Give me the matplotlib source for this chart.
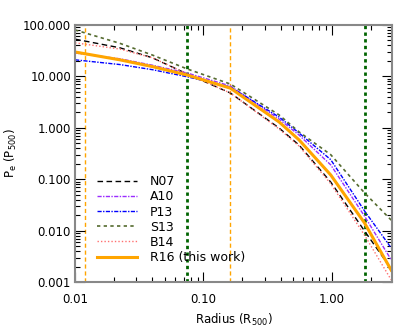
import matplotlib
matplotlib.use("Agg")
import matplotlib.pyplot as plt
from matplotlib.ticker import LogLocator, FixedLocator, FixedFormatter, NullFormatter

r_n07 = [0.01, 0.0223, 0.04, 0.075, 0.162, 0.388, 0.556, 0.98, 1.8, 2.9]
p_n07 = [53, 36, 23, 11.1, 4.75, 0.99, 0.46, 0.088, 0.0098, 0.0018]

r_a10 = [0.01, 0.0223, 0.04, 0.075, 0.162, 0.388, 0.556, 0.98, 1.8, 2.9]
p_a10 = [28.5, 22, 16.5, 11.6, 6.5, 1.48, 0.72, 0.19, 0.019, 0.0027]

r_p13 = [0.01, 0.0223, 0.04, 0.075, 0.162, 0.388, 0.556, 0.98, 1.8, 2.9]
p_p13 = [21, 17, 13.5, 9.8, 6.2, 1.62, 0.79, 0.24, 0.024, 0.0046]

r_s13 = [0.01, 0.0223, 0.04, 0.075, 0.162, 0.388, 0.556, 0.98, 1.8, 2.9]
p_s13 = [80, 44, 26, 13.9, 7.1, 1.78, 0.83, 0.30, 0.054, 0.016]

r_b14 = [0.01, 0.0223, 0.04, 0.075, 0.162, 0.388, 0.556, 0.98, 1.8, 2.9]
p_b14 = [45, 34, 23, 11.1, 4.75, 0.95, 0.44, 0.082, 0.0081, 0.0011]

r_r16 = [0.01, 0.0223, 0.04, 0.075, 0.162, 0.388, 0.556, 0.98, 1.8, 2.9]
p_r16 = [29.8, 21, 15.5, 10.6, 5.9, 1.30, 0.58, 0.121, 0.014, 0.0017]

vlines_orange = [0.012, 0.16]
vlines_green = [0.075, 1.8]

ytick_vals = [0.001, 0.01, 0.1, 1, 10, 100]
ytick_labels = ["0.001", "0.010", "0.100", "1.000", "10.000", "100.000"]
xtick_vals = [0.01, 0.1, 1]
xtick_labels = ["0.01", "0.10", "1.00"]

plt.rcParams["font.family"] = "DejaVu Sans"
plt.rcParams["font.size"] = 8.5

fig = plt.figure(figsize=(4.15, 3.33), dpi=100)
ax = fig.add_axes([0.181, 0.153, 0.764, 0.772])

for v in vlines_orange:
    ax.axvline(v, color="orange", ls=(0, (3, 2)), lw=1.0, zorder=1)
for v in vlines_green:
    ax.axvline(v, color="darkgreen", ls=(0, (1.2, 1.2)), lw=2.0, zorder=1)

ax.plot(r_n07, p_n07, color="black", ls=(0, (4, 2.5)), lw=1.0, label="N07")
ax.plot(r_a10, p_a10, color="#9a2cff", ls=(0, (3, 1, 1, 1)), lw=1.0, label="A10")
ax.plot(r_p13, p_p13, color="blue", ls=(0, (3, 1, 1, 1)), lw=1.0, label="P13")
ax.plot(r_s13, p_s13, color="#556b2f", ls=(0, (2, 2)), lw=1.2, label="S13")
ax.plot(r_b14, p_b14, color="#ff7070", ls=(0, (1, 1.5)), lw=1.0, label="B14")
ax.plot(r_r16, p_r16, color="orange", ls="-", lw=2.2, label="R16 (this work)")

ax.set_xscale("log")
ax.set_yscale("log")
ax.set_xlim(0.01, 2.95)
ax.set_ylim(0.001, 100)

ax.xaxis.set_major_locator(FixedLocator(xtick_vals))
ax.xaxis.set_major_formatter(FixedFormatter(xtick_labels))
ax.xaxis.set_minor_locator(LogLocator(base=10, subs=range(2, 10)))
ax.xaxis.set_minor_formatter(NullFormatter())
ax.yaxis.set_major_locator(FixedLocator(ytick_vals))
ax.yaxis.set_major_formatter(FixedFormatter(ytick_labels))
ax.yaxis.set_minor_locator(LogLocator(base=10, subs=range(2, 10)))
ax.yaxis.set_minor_formatter(NullFormatter())

ax.tick_params(which="both", direction="in", top=True, right=True, color="black", width=0.8)
ax.tick_params(which="major", length=7)
ax.tick_params(which="minor", length=3.5)
ax.tick_params(axis="x", which="major", pad=8)
ax.tick_params(axis="y", which="major", pad=3)
for s in ax.spines.values():
    s.set_color("#888888")
    s.set_linewidth(1.5)

ax.set_xlabel(r"Radius (R$_\mathrm{500}$)", labelpad=4)
ax.set_ylabel(r"P$_\mathrm{e}$ (P$_\mathrm{500}$)", labelpad=3)

ax.legend(loc="upper left", bbox_to_anchor=(0.07, 0.415), frameon=False,
          fontsize=9, handlelength=3.2, handletextpad=1.0, labelspacing=0.17,
          borderpad=0, borderaxespad=0)

fig.savefig("out.png", dpi=100)
